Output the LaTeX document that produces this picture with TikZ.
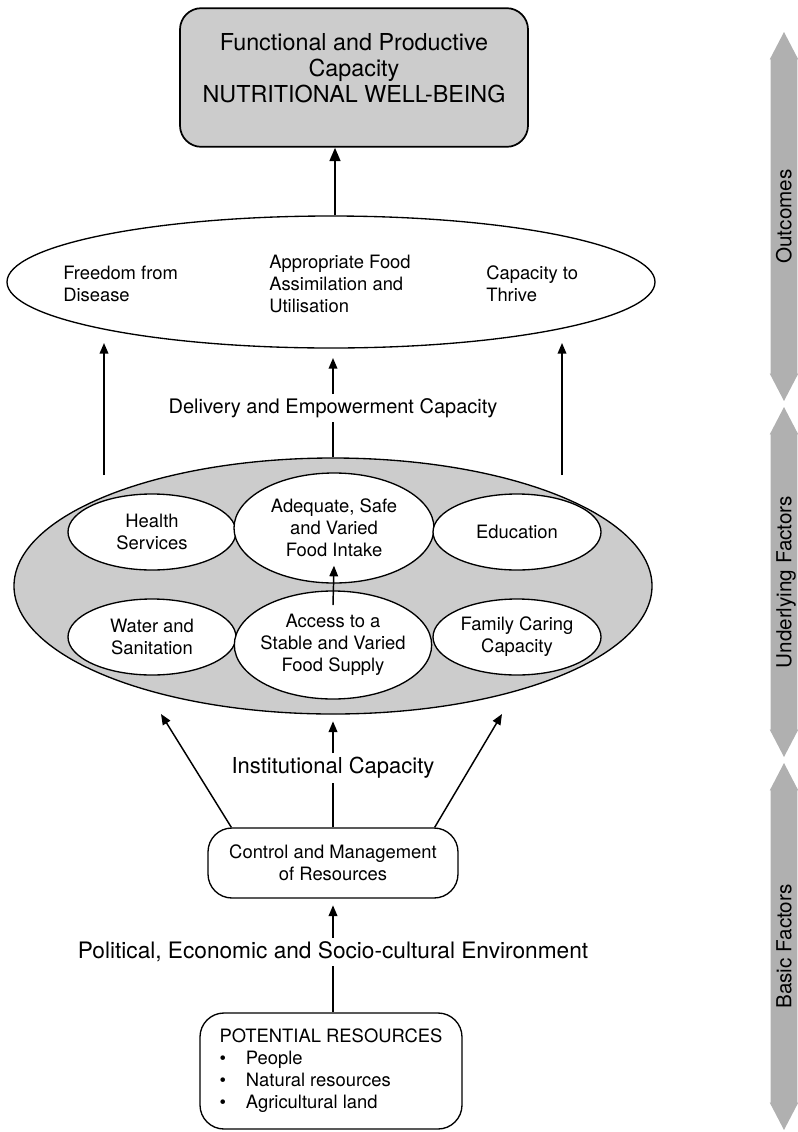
\documentclass[tikz,border=0pt]{standalone}
\usepackage{fontspec}
\setmainfont{TeX Gyre Heros}
\usepackage{tikz}
\usetikzlibrary{positioning,calc,shapes.geometric,shapes.arrows,arrows.meta}

\definecolor{fillgray}{RGB}{204,204,204}
\definecolor{bandgray}{RGB}{176,176,176}

\newcommand{\goalfont}{\fontsize{17.5}{19.5}\selectfont}
\newcommand{\bodyfont}{\fontsize{13.8}{16.5}\selectfont}
\newcommand{\capfont}{\fontsize{16.5}{19}\selectfont}
\newcommand{\bandfont}{\fontsize{15.5}{18}\selectfont}

\tikzset{
	goalbox/.style={draw, line width=1.3pt, fill=fillgray, rounded corners=16pt, minimum width=261pt, minimum height=104pt, font=\goalfont},
	ring/.style={draw, ellipse, line width=1pt, inner sep=0pt},
	smallring/.style={ring, fill=white, inner sep=-12pt, align=center, font=\bodyfont},
	ringtext/.style={anchor=west, align=left, inner sep=0pt, font=\bodyfont},
	caplabel/.style={inner sep=3pt, font=\capfont},
	resbox/.style={draw, line width=1pt, rounded corners=18pt, align=center, font=\bodyfont},
	upline/.style={line width=1.1pt, -{Triangle[length=8pt,width=6.5pt]}},
	band/.style={double arrow, fill=bandgray, rotate=90, double arrow tip angle=55, double arrow head extend=0.75pt, minimum width=21pt, inner xsep=0pt, inner ysep=1pt, text height=14.35pt, text depth=3.15pt, font=\bandfont},
}

\begin{document}
\begin{tikzpicture}[x=0.75pt,y=-0.75pt]
	\useasboundingbox (0,0) rectangle (797,1132);
	\node[goalbox] (goal) at (354,77.5) {\begin{tabular}{@{}c@{}}
		Functional and Productive\\
		Capacity\\
		NUTRITIONAL WELL-BEING\\[10pt]
	\end{tabular}};
	\node[ring, minimum width=486pt, minimum height=99pt] (outcome) at (331,282) {};
	\node[ringtext] (disease) at (63,284) {Freedom from\\Disease};
	\node[ringtext] (assim) at (269,284) {Appropriate Food\\Assimilation and\\Utilisation};
	\node[ringtext] (thrive) at (486,284) {Capacity to\\Thrive};
	\draw[line width=1.8pt, -{Triangle[length=10pt,width=8pt]}] ([xshift=3pt]outcome.north) -- ([xshift=3pt]outcome.north |- goal.south);

	\node[caplabel, font=\fontsize{15}{18}\selectfont] (delivery) at (333,408) {Delivery and Empowerment Capacity};
	\node[ring, fill=fillgray, minimum width=478.5pt, minimum height=192pt] (factors) at (333,586) {};
	\node[smallring, minimum width=126pt, minimum height=57pt] (health) at (152,532) {Health\\Services};
	\node[smallring, minimum width=150pt, minimum height=82.5pt] (intake) at (334,528) {Adequate, Safe\\and Varied\\Food Intake};
	\node[smallring, minimum width=126pt, minimum height=57pt] (education) at (517,532) {Education};
	\node[smallring, minimum width=126pt, minimum height=57pt] (water) at (152,637) {Water and\\Sanitation};
	\node[smallring, minimum width=148pt, minimum height=81pt] (access) at (333,645) {Access to a\\Stable and Varied\\Food Supply};
	\node[smallring, minimum width=126pt, minimum height=57pt] (caring) at (517,637) {Family Caring\\Capacity};
	\draw[upline] ([yshift=-11pt]access.north) -- ([yshift=13.5pt]intake.south);

	\coordinate (dl) at (104,475);
	\coordinate (dlt) at (104,343);
	\coordinate (dr) at (562,475);
	\coordinate (drt) at (562,343);
	\draw[upline] (dl) -- (dlt);
	\draw[upline] (dr) -- (drt);
	\draw[line width=1.1pt] (factors.north) -- (delivery.south);
	\draw[upline, shorten >=7pt] (delivery.north) -- (delivery.north |- outcome.south);

	\node[resbox, minimum width=187.5pt, minimum height=52.5pt] (control) at (333,863) {Control and Management\\of Resources};
	\node[caplabel] (institution) at (333,768) {Institutional Capacity};
	\coordinate (il) at (161,714);
	\coordinate (ir) at (502,714);
	\draw[upline] ([xshift=18pt]control.north west) -- (il);
	\draw[upline] ([xshift=-18pt]control.north east) -- (ir);
	\draw[line width=1.1pt] (control.north) -- (institution.south);
	\draw[upline, shorten >=5pt] (institution.north) -- (factors.south);

	\node[caplabel, font=\fontsize{17}{19}\selectfont] (political) at (333,952) {Political, Economic and Socio-cultural Environment};
	\draw[upline, shorten >=5pt] (political.north) -- (control.south);
	\node[resbox, minimum width=196.5pt, minimum height=87pt] (potential) at (331,1071) {\begin{tabular}{@{}l@{\hspace{15pt}}l@{}}
		\multicolumn{2}{@{}l@{}}{POTENTIAL RESOURCES}\\
		\textbullet & People\\
		\textbullet & Natural resources\\
		\textbullet & Agricultural land
	\end{tabular}};
	\draw[line width=1.1pt] (political.south) -- (political.south |- potential.north);

	\node[band, minimum height=276.75pt] (outcomes) at (784,216.5) {Outcomes};
	\node[band, minimum height=262.5pt] (underlying) at (784,582) {Underlying Factors};
	\node[band, minimum height=275.25pt] (basic) at (784,946.5) {Basic Factors};
\end{tikzpicture}
\end{document}
